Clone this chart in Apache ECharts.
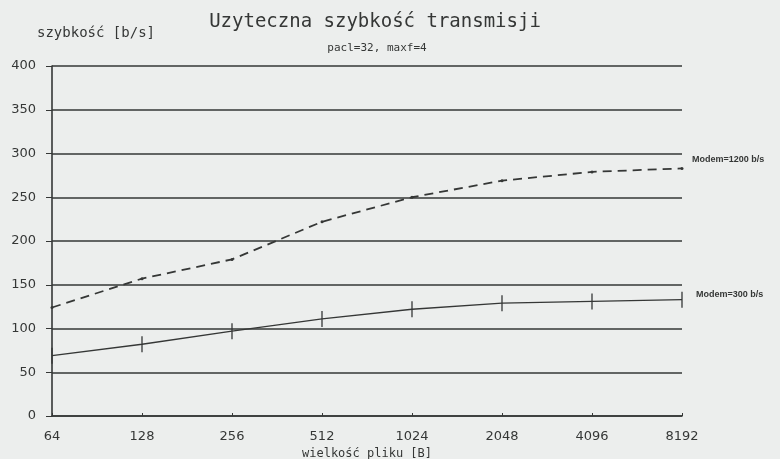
<!DOCTYPE html>
<html>
<head>
<meta charset="utf-8">
<script src="https://cdn.jsdelivr.net/npm/echarts@6/dist/echarts.min.js"></script>
<style>
  html, body { margin: 0; padding: 0; background: #eceeed; }
  #chart { width: 780px; height: 459px; }
</style>
</head>
<body>
<div id="chart"></div>
<script>
// file sizes [B]
const sizes = ['64', '128', '256', '512', '1024', '2048', '4096', '8192']
const yTicks = [0, 50, 100, 150, 200, 250, 300, 350, 400]
// useful rate [b/s]
const modem1200 = [124, 157, 179, 222, 250, 269, 279, 283]
const modem300 = [69, 82, 97, 111, 122, 129, 131, 133]

const ink = '#353736'
const chart = echarts.init(document.getElementById('chart'), null, { renderer: 'canvas' })

chart.setOption({
  backgroundColor: '#eceeed',
  animation: false,
  title: [
    {
      text: 'Uzyteczna szybkość transmisji',
      left: 370, top: 8, textAlign: 'center',
      textStyle: { fontFamily: 'DejaVu Sans Mono', fontSize: 19, fontWeight: 'normal', color: ink },
    },
    {
      text: 'pacl=32, maxf=4',
      left: 372, top: 38, textAlign: 'center',
      textStyle: { fontFamily: 'DejaVu Sans Mono', fontSize: 11, fontWeight: 'normal', color: ink },
    },
  ],
  grid: { left: 52, right: 98, top: 66, bottom: 43, outerBoundsMode: 'none' },
  xAxis: {
    type: 'category',
    data: sizes,
    boundaryGap: false,
    name: 'wielkość pliku [B]',
    nameLocation: 'middle',
    nameGap: 24,
    nameTextStyle: { fontFamily: 'DejaVu Sans Mono', fontSize: 12, color: ink },
    axisLine: { lineStyle: { color: ink, width: 1.6 } },
    axisTick: { show: true, inside: true, length: 3, lineStyle: { color: ink } },
    axisLabel: { fontFamily: 'DejaVu Sans', fontSize: 13, color: ink, margin: 14 },
    splitLine: { show: false },
  },
  yAxis: {
    type: 'value',
    min: yTicks[0],
    max: yTicks[yTicks.length - 1],
    interval: 50,
    name: 'szybkość [b/s]',
    nameLocation: 'end',
    nameGap: 26,
    nameTextStyle: { fontFamily: 'DejaVu Sans Mono', fontSize: 14, color: ink, align: 'left', padding: [0, 0, 0, -15] },
    axisLine: { show: true, lineStyle: { color: ink, width: 1.6 } },
    axisTick: { show: true, length: 6, lineStyle: { color: ink } },
    axisLabel: { fontFamily: 'DejaVu Sans', fontSize: 13, color: ink, margin: 16 },
    splitLine: { lineStyle: { color: ink, width: 1.6 } },
  },
  series: [
    {
      name: 'Modem=1200 b/s',
      type: 'line',
      data: modem1200,
      symbol: 'circle',
      symbolSize: 3,
      itemStyle: { color: ink },
      lineStyle: { color: ink, width: 1.8, type: [9, 6] },
      endLabel: {
        show: true,
        formatter: 'Modem=1200 b/s',
        fontFamily: 'Liberation Sans',
        fontSize: 9,
        fontWeight: 'bold',
        color: ink,
        offset: [2, -9],
      },
    },
    {
      name: 'Modem=300 b/s',
      type: 'line',
      data: modem300,
      symbol: 'rect',
      symbolSize: [1.3, 16],
      itemStyle: { color: ink },
      lineStyle: { color: ink, width: 1.5 },
      endLabel: {
        show: true,
        formatter: 'Modem=300 b/s',
        fontFamily: 'Liberation Sans',
        fontSize: 9,
        fontWeight: 'bold',
        color: ink,
        offset: [6, -5],
      },
    },
  ],
})
</script>
</body>
</html>
